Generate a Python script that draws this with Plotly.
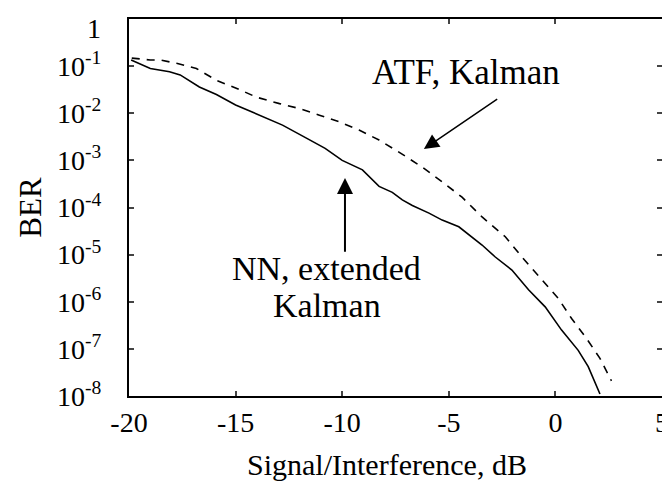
import plotly.graph_objects as go

# NN, extended Kalman (solid)
snr_nn = [-19.9, -19.0, -18.1, -17.6, -16.7, -15.9, -15.0, -13.9, -12.8, -11.7,
          -10.8, -10.0, -9.05, -8.27, -7.65, -7.18, -6.71, -5.93, -5.31, -4.53,
          -3.91, -3.44, -2.82, -2.04, -1.26, -0.48, 0.29, 1.07, 1.54, 2.09]
ber_nn = [1.35e-1, 8.9e-2, 7.6e-2, 6.5e-2, 3.6e-2, 2.5e-2, 1.5e-2, 9.1e-3, 5.6e-3, 3.0e-3,
          1.8e-3, 1.0e-3, 6.3e-4, 2.8e-4, 2.1e-4, 1.45e-4, 1.1e-4, 7.6e-5, 5.4e-5, 3.9e-5,
          2.4e-5, 1.6e-5, 8.9e-6, 4.7e-6, 1.8e-6, 7.8e-7, 2.5e-7, 9.3e-8, 4.2e-8, 1.1e-8]

# ATF, Kalman (dashed)
snr_atf = [-19.87, -19.0, -18.55, -17.77, -16.84, -15.9, -14.97, -14.03, -12.94, -12.01,
           -11.07, -10.14, -9.21, -8.27, -7.34, -6.25, -5.31, -4.38, -3.44, -2.35,
           -1.57, -0.64, 0.14, 0.76, 1.46, 2.09, 2.63]
ber_atf = [1.48e-1, 1.35e-1, 1.35e-1, 1.15e-1, 8.9e-2, 5.0e-2, 3.4e-2, 2.2e-2, 1.6e-2, 1.26e-2,
           9.1e-3, 6.6e-3, 4.4e-3, 2.7e-3, 1.5e-3, 7.2e-4, 3.5e-4, 1.66e-4, 6.3e-5, 2.4e-5,
           8.9e-6, 2.9e-6, 1.17e-6, 4.4e-7, 1.66e-7, 6.3e-8, 2.1e-8]

x_tickvals = [-20, -15, -10, -5, 0, 5]
x_ticktext = ["-20", "-15", "-10", "-5", "0", "5"]
y_tickvals = [1, 1e-1, 1e-2, 1e-3, 1e-4, 1e-5, 1e-6, 1e-7, 1e-8]
y_ticktext = ["1", "10<sup>-1</sup>", "10<sup>-2</sup>", "10<sup>-3</sup>", "10<sup>-4</sup>",
              "10<sup>-5</sup>", "10<sup>-6</sup>", "10<sup>-7</sup>", "10<sup>-8</sup>"]

FONT = "Liberation Serif"

fig = go.Figure()
fig.add_trace(go.Scatter(x=snr_atf, y=ber_atf, mode="lines", name="ATF, Kalman",
                         line=dict(color="black", width=1.6, dash="8px,7px")))
fig.add_trace(go.Scatter(x=snr_nn, y=ber_nn, mode="lines", name="NN, extended Kalman",
                         line=dict(color="black", width=1.6)))

# the top label "1" sits just below its tick (as in the reference), so it is
# drawn as an annotation; the axis keeps the tick itself
axis_ticktext = [""] + y_ticktext[1:]

# the page body has an 8px default margin, so the figure is sized to fit the window
fig.update_layout(
    width=662, height=477,
    margin=dict(l=121, r=8, t=11, b=89),
    paper_bgcolor="white", plot_bgcolor="white",
    showlegend=False,
    font=dict(family=FONT, color="black", size=27),
    xaxis=dict(range=[-20, 5], tickvals=x_tickvals, ticktext=x_ticktext,
               ticks="inside", ticklen=5, tickwidth=2, automargin=False,
               ticklabeloverflow="allow",
               showline=True, linewidth=2, linecolor="black", mirror="ticks",
               showgrid=False, zeroline=False, tickfont=dict(size=28)),
    yaxis=dict(type="log", range=[-8, 0], tickvals=y_tickvals, ticktext=axis_ticktext,
               ticks="inside", ticklen=5, tickwidth=2, automargin=False,
               ticklabeloverflow="allow",
               showline=True, linewidth=2, linecolor="black", mirror="ticks",
               showgrid=False, zeroline=False, tickfont=dict(size=28),
               ticklabelstandoff=20,
               title=dict(text="BER", font=dict(size=31), standoff=6)),
)

# top y tick label
fig.add_annotation(text=y_ticktext[0], xref="paper", yref="paper",
                   x=-0.049, y=0.976, showarrow=False, font=dict(size=28),
                   xanchor="right", yanchor="middle")

# x-axis title
fig.add_annotation(text="Signal/Interference, dB", xref="paper", yref="paper",
                   x=0.484, y=-0.183, showarrow=False, font=dict(size=30),
                   xanchor="center", yanchor="middle")

# labels
fig.add_annotation(text="ATF, Kalman", xref="x", yref="y", x=-4.2, y=-1.125,
                   showarrow=False, font=dict(size=35), xanchor="center", yanchor="middle")
fig.add_annotation(text="NN, extended", xref="x", yref="y", x=-10.75, y=-5.29,
                   showarrow=False, font=dict(size=34), xanchor="center", yanchor="middle")
fig.add_annotation(text="Kalman", xref="x", yref="y", x=-10.7, y=-6.07,
                   showarrow=False, font=dict(size=34), xanchor="center", yanchor="middle")

# arrows
fig.add_annotation(text="", xref="x", yref="y", axref="x", ayref="y",
                   x=-6.17, y=-2.76, ax=-2.66, ay=-1.68,
                   showarrow=True, arrowhead=2, arrowsize=2.0, arrowwidth=1.5, arrowcolor="black")
fig.add_annotation(text="", xref="x", yref="y", axref="x", ayref="y",
                   x=-9.87, y=-3.376, ax=-9.87, ay=-4.97,
                   showarrow=True, arrowhead=2, arrowsize=1.6, arrowwidth=2, arrowcolor="black")

fig.write_html("out.html")
